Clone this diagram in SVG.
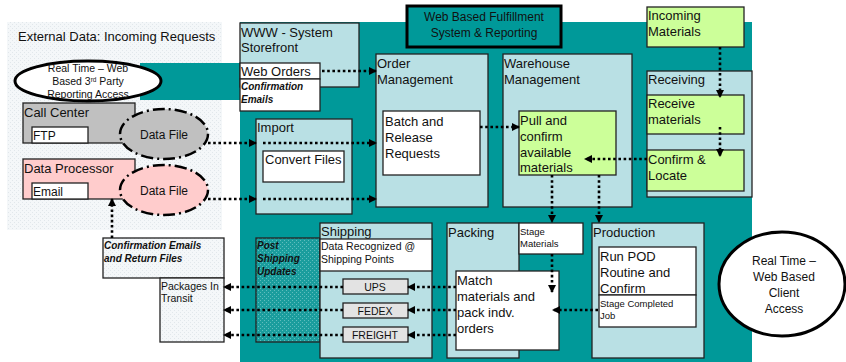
<svg xmlns="http://www.w3.org/2000/svg" width="846" height="362" viewBox="0 0 846 362">
<defs>
<pattern id="dotsLight" width="4" height="4" patternUnits="userSpaceOnUse">
<rect width="4" height="4" fill="#f4f7f9"/>
<rect x="0" y="0" width="1" height="1" fill="#e1e7eb"/>
<rect x="2" y="2" width="1" height="1" fill="#e1e7eb"/>
</pattern>
<pattern id="dotsTeal" width="4" height="4" patternUnits="userSpaceOnUse">
<rect width="4" height="4" fill="#1a9d9d"/>
<rect x="0" y="0" width="1" height="1" fill="#5fbdbd"/>
<rect x="2" y="2" width="1" height="1" fill="#5fbdbd"/>
</pattern>
<marker id="ah" markerWidth="8" markerHeight="8" refX="7" refY="4" orient="auto" markerUnits="userSpaceOnUse">
<path d="M0,0 L8,4 L0,8 Z" fill="#000"/>
</marker>
<style>
text{font-family:"Liberation Sans",Arial,sans-serif;fill:#111;}
.t13{font-size:13px;}
.t12{font-size:12px;}
.t10{font-size:10.5px;}
.t9{font-size:9.5px;}
.bi{font-weight:bold;font-style:italic;font-size:10px;}
.box{stroke:#222;stroke-width:1.3;}
.lb{fill:#b9e0e4;}
.wh{fill:#fff;}
.gr{fill:#ccff99;}
.dot{fill:none;stroke:#000;stroke-width:2.6;stroke-dasharray:2.6 2.6;marker-end:url(#ah);}
</style>
</defs>

<!-- backgrounds -->
<rect x="7" y="22" width="215" height="208" fill="url(#dotsLight)"/>
<rect x="240" y="22" width="512" height="340" fill="#009999"/>
<rect x="140" y="63" width="100" height="37" fill="#009999"/>
<text x="18" y="41" class="t13">External Data: Incoming Requests</text>

<g id="title">
<rect x="407" y="6" width="154" height="41" fill="#009999" stroke="#000" stroke-width="3"/>
<text x="484" y="21" class="t12" text-anchor="middle">Web Based Fulfillment</text>
<text x="484" y="37" class="t12" text-anchor="middle">System &amp; Reporting</text>
</g>

<g id="realtime-3rdparty">
<ellipse cx="88" cy="81" rx="73" ry="20" fill="#fff" stroke="#000" stroke-width="3"/>
<text x="88" y="72" font-size="10.5" text-anchor="middle">Real Time – Web</text>
<text x="88" y="85" font-size="10.5" text-anchor="middle">Based 3<tspan font-size="6.5" dy="-3">rd</tspan><tspan dy="3"> Party</tspan></text>
<text x="88" y="98" font-size="10.5" text-anchor="middle">Reporting Access</text>
</g>

<g id="storefront">
<rect x="240" y="23" width="119" height="64" class="box lb"/>
<text x="241" y="37" class="t13">WWW  - System</text>
<text x="241" y="52" class="t13">Storefront</text>
<rect x="240" y="63" width="80" height="16" class="box wh"/>
<text x="241" y="76" class="t13">Web Orders</text>
<rect x="240" y="79" width="80" height="32" class="box wh"/>
<text x="241" y="90" class="bi" font-size="9.5">Confirmation</text>
<text x="241" y="103" class="bi" font-size="9.5">Emails</text>
</g>

<g id="order-management">
<rect x="376" y="54" width="112" height="153" class="box lb"/>
<text x="377" y="68" class="t13">Order</text>
<text x="377" y="84" class="t13">Management</text>
<rect x="383" y="111" width="97" height="64" class="box wh"/>
<text x="385" y="126" class="t13">Batch and</text>
<text x="385" y="142" class="t13">Release</text>
<text x="385" y="158" class="t13">Requests</text>
</g>

<g id="warehouse">
<rect x="503" y="54" width="129" height="153" class="box lb"/>
<text x="504" y="68" class="t13">Warehouse</text>
<text x="504" y="84" class="t13">Management</text>
<rect x="519" y="111" width="97" height="64" class="box gr"/>
<text x="520" y="125" class="t13">Pull and</text>
<text x="520" y="141" class="t13">confirm</text>
<text x="520" y="157" class="t13">available</text>
<text x="520" y="172" class="t13">materials</text>
</g>

<g id="incoming-materials">
<rect x="647" y="7" width="97" height="40" class="box gr"/>
<text x="648" y="20" class="t13">Incoming</text>
<text x="648" y="36" class="t13">Materials</text>
</g>

<g id="receiving">
<rect x="647" y="71" width="105" height="126" class="box lb"/>
<text x="648" y="84" class="t13">Receiving</text>
<rect x="647" y="95" width="97" height="39" class="box gr"/>
<text x="648" y="108" class="t13">Receive</text>
<text x="648" y="124" class="t13">materials</text>
<rect x="647" y="150" width="97" height="41" class="box gr"/>
<text x="648" y="164" class="t13">Confirm &amp;</text>
<text x="648" y="180" class="t13">Locate</text>
</g>

<g id="import">
<rect x="256" y="119" width="96" height="95" class="box lb"/>
<text x="257" y="132" class="t13">Import</text>
<rect x="263" y="151" width="81" height="31" class="box wh"/>
<text x="265" y="164" class="t13">Convert Files</text>
</g>

<g id="call-center">
<rect x="23" y="103" width="112" height="40" class="box" fill="#c0c0c0"/>
<text x="24" y="117" class="t13">Call Center</text>
<rect x="32" y="127" width="56" height="16" class="box wh"/>
<text x="33" y="140" class="t12">FTP</text>
</g>
<g id="datafile1">
<ellipse cx="164" cy="134" rx="44" ry="25" fill="#c0c0c0" stroke="#000" stroke-width="2.5" stroke-dasharray="12 4 2 4"/>
<text x="164" y="139" class="t12" text-anchor="middle">Data File</text>
</g>

<g id="data-processor">
<rect x="23" y="159" width="112" height="40" class="box" fill="#ffcccc"/>
<text x="24" y="173" class="t13">Data Processor</text>
<rect x="32" y="183" width="56" height="16" class="box wh"/>
<text x="33" y="196" class="t12">Email</text>
</g>
<g id="datafile2">
<ellipse cx="164" cy="190" rx="44" ry="25" fill="#ffcccc" stroke="#000" stroke-width="2.5" stroke-dasharray="12 4 2 4"/>
<text x="164" y="195" class="t12" text-anchor="middle">Data File</text>
</g>

<g id="confirmation-return">
<rect x="103" y="238" width="121" height="40" class="box" fill="url(#dotsLight)"/>
<text x="104" y="249" class="bi">Confirmation Emails</text>
<text x="104" y="262" class="bi">and Return Files</text>
</g>

<g id="packages-transit">
<rect x="160" y="278" width="64" height="64" class="box" fill="url(#dotsLight)"/>
<text x="161" y="290" class="t10">Packages In</text>
<text x="161" y="302" class="t10">Transit</text>
</g>

<g id="post-shipping">
<rect x="256" y="238" width="64" height="104" class="box" fill="url(#dotsTeal)"/>
<text x="257" y="249" class="bi">Post</text>
<text x="257" y="262" class="bi">Shipping</text>
<text x="257" y="275" class="bi">Updates</text>
</g>

<g id="shipping">
<rect x="320" y="223" width="112" height="135" class="box lb"/>
<text x="321" y="236" class="t13">Shipping</text>
<rect x="320" y="239" width="112" height="32" class="box wh"/>
<text x="321" y="250" class="t10">Data Recognized @</text>
<text x="321" y="263" class="t10">Shipping Points</text>
</g>
<g id="ups">
<rect x="343" y="279" width="65" height="15" class="box" fill="#e3e3e3"/>
<text x="375" y="291" class="t10" text-anchor="middle">UPS</text>
</g>
<g id="fedex">
<rect x="343" y="303" width="65" height="15" class="box" fill="#e3e3e3"/>
<text x="375" y="315" class="t10" text-anchor="middle">FEDEX</text>
</g>
<g id="freight">
<rect x="343" y="327" width="65" height="15" class="box" fill="#e3e3e3"/>
<text x="375" y="339" class="t10" text-anchor="middle">FREIGHT</text>
</g>

<g id="packing">
<rect x="447" y="223" width="72" height="135" class="box lb"/>
<text x="448" y="237" class="t13">Packing</text>
<rect x="519" y="223" width="64" height="31" class="box wh"/>
<text x="520" y="235" class="t9">Stage</text>
<text x="520" y="247" class="t9">Materials</text>
<rect x="456" y="271" width="103" height="79" class="box wh"/>
<text x="457" y="285" class="t13">Match</text>
<text x="457" y="301" class="t13">materials and</text>
<text x="457" y="317" class="t13">pack indv.</text>
<text x="457" y="333" class="t13">orders</text>
</g>

<g id="production">
<rect x="592" y="223" width="112" height="135" class="box lb"/>
<text x="593" y="237" class="t13">Production</text>
<rect x="599" y="247" width="97" height="48" class="box wh"/>
<text x="600" y="261" class="t13">Run POD</text>
<text x="600" y="277" class="t13">Routine and</text>
<text x="600" y="293" class="t13">Confirm</text>
<rect x="599" y="295" width="97" height="32" class="box wh"/>
<text x="600" y="307" class="t9">Stage Completed</text>
<text x="600" y="319" class="t9">Job</text>
</g>

<g id="realtime-client">
<ellipse cx="782" cy="284" rx="63" ry="52" fill="#fff" stroke="#000" stroke-width="3"/>
<text x="784" y="265" class="t12" text-anchor="middle">Real Time –</text>
<text x="784" y="281" class="t12" text-anchor="middle">Web Based</text>
<text x="784" y="297" class="t12" text-anchor="middle">Client</text>
<text x="784" y="313" class="t12" text-anchor="middle">Access</text>
</g>

<g id="connectors">
<path class="dot" d="M322,71 H376"/>
<path class="dot" d="M208,143 H256"/>
<path class="dot" d="M263,143 H376"/>
<path class="dot" d="M208,199 H256"/>
<path class="dot" d="M263,199 H376"/>
<path class="dot" d="M480,127 H519"/>
<path class="dot" d="M720,47 V97"/>
<path class="dot" d="M720,127 V156"/>
<path class="dot" d="M647,159 H585"/>
<path class="dot" d="M552,175 V222"/>
<path class="dot" d="M599,175 V222"/>
<path class="dot" d="M552,254 V292"/>
<path class="dot" d="M598,310 H553"/>
<path class="dot" d="M456,287 H408"/>
<path class="dot" d="M456,310 H408"/>
<path class="dot" d="M456,335 H408"/>
<path class="dot" d="M343,287 H224"/>
<path class="dot" d="M343,310 H224"/>
<path class="dot" d="M343,335 H224"/>
<path class="dot" d="M112,238 V199"/>
</g>
</svg>
